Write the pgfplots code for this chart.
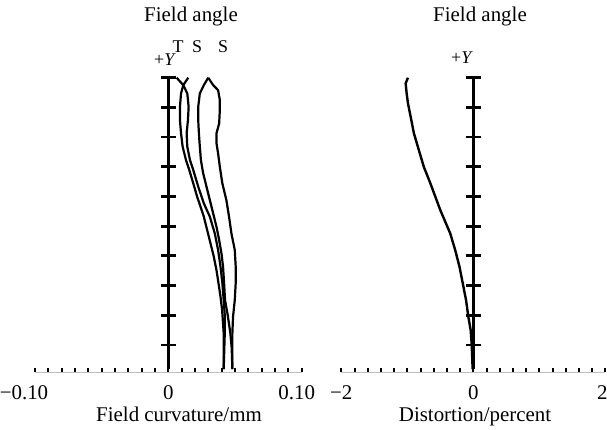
\documentclass[border=0pt]{standalone}
\usepackage{pgfplots}
\pgfplotsset{compat=1.18}
\usepackage{fontspec}
\setmainfont{Liberation Serif}
\newcommand{\bigf}{\fontsize{21}{21}\selectfont}
\newcommand{\smf}{\fontsize{18}{18}\selectfont}
\pgfplotsset{
  panel/.style={
    scale only axis, anchor=south west, height=294.3bp,
    ymin=0.009, ymax=1, clip=false,
    axis x line*=bottom, axis y line=none,
    x axis line style={gray!50, line width=1bp},
    tick align=inside,
    major tick length=3.6bp, minor tick length=3.6bp,
    tick style={black, line width=2bp},
    minor x tick num=9,
    ytick=\empty,
    every tick label/.append style={font=\bigf},
    xticklabel style={anchor=base, yshift=-27bp},
  },
  curve/.style={black, line width=2.2bp, no marks},
  yaxis/.style={black, line width=3bp, no marks},
  yticks/.style={only marks, mark=-, mark size=7.5bp, mark options={line width=2.8bp, black}},
}
\begin{document}
\begin{tikzpicture}[x=1bp,y=1bp]
\useasboundingbox (0,0) rectangle (607,429);
% ---------- Field curvature ----------
\begin{axis}[panel, at={(35bp,57bp)}, width=266.7bp,
  xmin=-0.1, xmax=0.1, xtick={-0.1,0,0.1},
  xticklabels={\hspace*{-22bp}−0.10, 0, \hspace*{-10bp}0.10}]
\addplot[yaxis] coordinates {(0,0.019) (0,1)};
\addplot[yticks] coordinates {(0,0.1)(0,0.2)(0,0.3)(0,0.4)(0,0.5)(0,0.6)(0,0.7)(0,0.8)(0,0.9)(0,1.0)};
% C1
\addplot[curve] coordinates {(0.0299,1.0)(0.0336,0.975)(0.0373,0.958)(0.0386,0.925)(0.0386,0.891)(0.0381,0.846)(0.0361,0.813)(0.0361,0.779)(0.0373,0.745)(0.0386,0.700)(0.0405,0.644)(0.0435,0.588)(0.0455,0.532)(0.0473,0.476)(0.0498,0.420)(0.0505,0.364)(0.0505,0.308)(0.0498,0.251)(0.0485,0.195)(0.0480,0.139)(0.0480,0.019)};
% C2
\addplot[curve] coordinates {(0.0299,1.0)(0.0266,0.975)(0.0236,0.947)(0.0224,0.902)(0.0224,0.857)(0.0229,0.813)(0.0236,0.768)(0.0244,0.723)(0.0261,0.678)(0.0286,0.633)(0.0311,0.588)(0.0336,0.543)(0.0361,0.498)(0.0381,0.453)(0.0398,0.409)(0.0410,0.364)(0.0418,0.308)(0.0425,0.251)(0.0445,0.201)(0.0465,0.139)(0.0475,0.090)(0.0480,0.019)};
% C3
\addplot[curve] coordinates {(0.0062,1.0)(0.0112,0.975)(0.0142,0.947)(0.0152,0.902)(0.0147,0.857)(0.0137,0.813)(0.0142,0.768)(0.0162,0.723)(0.0187,0.689)(0.0224,0.633)(0.0266,0.577)(0.0311,0.532)(0.0348,0.476)(0.0373,0.420)(0.0391,0.364)(0.0405,0.308)(0.0415,0.251)(0.0423,0.201)(0.0423,0.139)(0.0415,0.019)};
% C4
\addplot[curve] coordinates {(0.0149,1.0)(0.0112,0.975)(0.0095,0.947)(0.0087,0.902)(0.0087,0.857)(0.0095,0.813)(0.0107,0.768)(0.0132,0.723)(0.0157,0.689)(0.0187,0.644)(0.0216,0.599)(0.0241,0.566)(0.0266,0.532)(0.0291,0.487)(0.0316,0.442)(0.0341,0.397)(0.0361,0.352)(0.0376,0.308)(0.0391,0.263)(0.0403,0.218)(0.0410,0.173)(0.0415,0.139)(0.0415,0.019)};
\end{axis}
% ---------- Distortion ----------
\begin{axis}[panel, at={(341.3bp,57bp)}, width=264bp,
  xmin=-2, xmax=2, xtick={-2,0,2},
  xticklabels={−2, 0, \hspace*{-6bp}2}]
\addplot[yaxis] coordinates {(0,0.019) (0,1)};
\addplot[yticks] coordinates {(0,0.1)(0,0.2)(0,0.3)(0,0.4)(0,0.5)(0,0.6)(0,0.7)(0,0.8)(0,0.9)(0,1.0)};
\addplot[curve, line width=2.4bp] coordinates {(-0.99,1.0)(-1.025,0.981)(-1.01,0.947)(-0.99,0.914)(-0.95,0.869)(-0.90,0.813)(-0.825,0.756)(-0.75,0.700)(-0.65,0.644)(-0.575,0.599)(-0.50,0.554)(-0.425,0.515)(-0.35,0.476)(-0.275,0.420)(-0.21,0.364)(-0.16,0.308)(-0.11,0.251)(-0.075,0.195)(-0.04,0.150)(-0.025,0.105)(-0.01,0.019)};
\end{axis}
% ---------- texts ----------
\node[font=\bigf, anchor=base] at (191,407) {Field angle};
\node[font=\bigf, anchor=base] at (480,407) {Field angle};
\node[font=\smf, anchor=base] at (178,377) {T};
\node[font=\smf, anchor=base] at (197,377) {S};
\node[font=\smf, anchor=base] at (223,377) {S};
\node[font=\smf, anchor=base] at (165,364) {+\textit{Y}};
\node[font=\smf, anchor=base] at (462,366) {+\textit{Y}};
\node[font=\bigf, anchor=base] at (179,8) {Field curvature/mm};
\node[font=\bigf, anchor=base] at (475,8) {Distortion/percent};
\end{tikzpicture}
\end{document}
